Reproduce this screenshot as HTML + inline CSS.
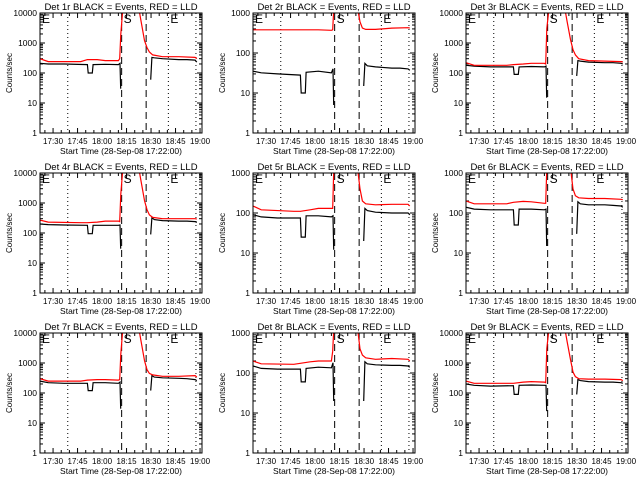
<!DOCTYPE html>
<html><head><meta charset="utf-8"><style>
html,body{margin:0;padding:0;background:#fff}
svg{display:block;font-family:"Liberation Sans",sans-serif}
</style></head><body>
<svg id="chart" width="640" height="480" viewBox="0 0 640 480" xmlns="http://www.w3.org/2000/svg"></svg>
<script>
// minutes after 17:22:00
const blackTimes = [0,5,15,29,29.5,32,32.5,40,48,49,49.4,49.8,67.5,67.8,68.5,70,75,85,90,95,96];
const redTimes = [0,5,25,29,35,40,48,48.8,49.5,50.5,51,59,60,61,62,64,65.5,67,69,75,85,95,96];
const panelTitles = ["Det 1r","Det 2r","Det 3r","Det 4r","Det 5r","Det 6r","Det 7r","Det 8r","Det 9r"];
const panelYMax = [10000,1000,10000,10000,1000,1000,10000,1000,10000];
const B = 1e5;
const blackP1 = [210,200,200,190,100,100,190,195,190,210,30,null,null,60,330,320,300,280,280,270,230];
const blackP2 = [35,32,30,28,10,10,33,35,32,40,5,null,null,15,55,48,45,42,42,40,37];
const blackP3 = [180,170,160,160,90,90,160,165,160,170,15,null,null,80,260,250,230,220,220,210,200];
const blackP4 = [200,190,185,180,95,95,180,180,180,185,30,null,null,90,320,280,260,250,250,240,225];
const blackP5 = [90,80,75,75,25,25,85,85,80,85,12,null,null,20,130,115,105,100,100,100,90];
const blackP6 = [140,125,120,120,50,50,125,125,120,125,15,null,null,30,190,170,160,160,155,150,140];
const blackP7 = [250,220,210,210,120,120,220,220,210,230,30,null,null,120,380,340,320,310,300,280,260];
const blackP8 = [150,130,125,125,60,60,130,140,135,180,20,null,null,20,190,170,160,155,155,150,140];
const blackP9 = [200,180,170,175,90,90,180,185,180,180,25,null,null,90,280,260,240,230,230,220,210];
const redP1 = [300,240,240,280,280,260,260,300,2000,10000,B,B,B,10000,5000,1200,700,500,400,350,350,330,300];
const redP2 = [380,380,380,380,380,380,370,380,B,B,B,B,B,B,B,B,600,420,390,390,420,430,420];
const redP3 = [220,180,180,190,200,210,210,200,3000,10000,B,B,B,10000,5000,1300,600,400,300,260,250,240,230];
const redP4 = [270,230,220,220,230,250,250,240,2000,10000,B,B,B,10000,5000,1200,600,400,330,300,300,300,290];
const redP5 = [150,120,110,110,120,130,130,130,B,B,B,B,B,B,B,B,400,200,170,160,165,165,150];
const redP6 = [200,170,170,185,195,190,175,175,B,B,B,B,B,B,B,B,400,270,240,230,230,220,215];
const redP7 = [300,250,250,270,280,280,270,280,2000,10000,B,B,B,10000,5000,1200,600,450,400,360,360,380,340];
const redP8 = [200,170,165,175,190,200,200,350,B,B,B,B,B,B,B,B,400,280,240,220,230,220,200];
const redP9 = [250,210,210,210,230,240,230,220,3000,10000,B,B,B,10000,5000,1300,500,350,300,290,290,280,260];
const timeTickLabels = ["17:30","17:45","18:00","18:15","18:30","18:45","19:00"];
const timeTickMinutes = [8,23,38,53,68,83,98];
const dashedMinutes = [50,65];
const dottedMinutes = [17,78.6,95.5];

const blackSeries = [blackP1,blackP2,blackP3,blackP4,blackP5,blackP6,blackP7,blackP8,blackP9];
const redSeries = [redP1,redP2,redP3,redP4,redP5,redP6,redP7,redP8,redP9];

const NS = "http://www.w3.org/2000/svg";
const svg = document.getElementById("chart");
const colX = [40,253,466], rowY = [13,173,333], PW = 162, PH = 120, PXMIN = 1.633;
function mk(tag, attrs, parent){const e=document.createElementNS(NS,tag);for(const k in attrs)e.setAttribute(k,attrs[k]);(parent||svg).appendChild(e);return e;}
const defs = mk("defs",{});

for (let p=0;p<9;p++){
  const x0 = colX[p%3], y0 = rowY[Math.floor(p/3)];
  const ymax = panelYMax[p], dec = Math.log10(ymax);
  const xs = t => x0 + t*PXMIN;
  const ys = v => y0 + PH - Math.log10(v)/dec*PH;
  const g = mk("g",{});
  
  
  const cp = mk("clipPath",{id:"cp"+p},defs);
  mk("rect",{x:x0,y:y0,width:PW,height:PH},cp);

  const title = mk("text",{x:x0+PW/2,y:y0-3,"text-anchor":"middle","font-size":"9.5"},g);
  title.textContent = panelTitles[p]+" BLACK = Events, RED = LLD";
  
  

  for (let d=0; d<=dec; d++){
    const v = Math.pow(10,d), y = ys(v);
    mk("line",{x1:x0,x2:x0+5,y1:y,y2:y,stroke:"#000"},g);
    mk("line",{x1:x0+PW-5,x2:x0+PW,y1:y,y2:y,stroke:"#000"},g);
    const lab = mk("text",{x:x0-3,y:y+3,"text-anchor":"end","font-size":"8.5"},g);
    lab.textContent = String(v);
    
    
    if (d<dec) for (let m=2;m<10;m++){
      const ym = ys(v*m);
      mk("line",{x1:x0,x2:x0+3,y1:ym,y2:ym,stroke:"#000"},g);
      mk("line",{x1:x0+PW-3,x2:x0+PW,y1:ym,y2:ym,stroke:"#000"},g);
    }
  }
  for (let m=0;m<=99;m+=5){
    const t = m+3; if (t>98.5) break;
    const x = xs(t), major = ((t-8)%15===0);
    const L = major?5:3;
    mk("line",{x1:x,x2:x,y1:y0+PH,y2:y0+PH-L,stroke:"#000"},g);
    mk("line",{x1:x,x2:x,y1:y0,y2:y0+L,stroke:"#000"},g);
  }
  timeTickMinutes.forEach((t,i)=>{
    const lab = mk("text",{x:xs(t),y:y0+PH+11,"text-anchor":"middle","font-size":"8"},g);
    lab.textContent = timeTickLabels[i];
    
    
  });
  const xt = mk("text",{x:x0+PW/2,y:y0+PH+21,"text-anchor":"middle","font-size":"8.5"},g);
  xt.textContent = "Start Time (28-Sep-08 17:22:00)";
  
  
  const yt = mk("text",{x:0,y:0,"text-anchor":"middle","font-size":"8",transform:`translate(${x0-28},${y0+PH/2}) rotate(-90)`},g);
  yt.textContent = "Counts/sec";
  
  

  const inner = mk("g",{"clip-path":`url(#cp${p})`},g);
  dashedMinutes.forEach(t=>{
    const l = mk("line",{x1:xs(t),x2:xs(t),y1:y0,y2:y0+PH,stroke:"#000","stroke-dasharray":"7,4"},inner);
    
    
  });
  dottedMinutes.forEach(t=>{
    const l = mk("line",{x1:xs(t),x2:xs(t),y1:y0,y2:y0+PH,stroke:"#000","stroke-dasharray":"1,3"},inner);
    
    
  });
  [["E",x0+2],["S",xs(dashedMinutes[0])+2],["E",xs(dottedMinutes[1])+2]].forEach(([c,x])=>{
    const t = mk("text",{x:x,y:y0+10,"font-size":"12"},inner);
    t.textContent = c;
    
    
  });

  function path(times, vals, color){
    let d = "", pen = false;
    times.forEach((t,i)=>{
      const v = vals[i];
      if (v===null){pen=false;return;}
      const y = Math.max(y0-5, ys(v));
      d += (pen?"L":"M")+xs(t).toFixed(1)+" "+y.toFixed(1)+" ";
      pen = true;
    });
    return mk("path",{d:d,fill:"none",stroke:color,"stroke-width":"1.2"},inner);
  }
  const bp = path(blackTimes, blackSeries[p], "#000");
  
  
  const rp = path(redTimes, redSeries[p], "#ff0000");
  
  

  const frame = mk("rect",{x:x0,y:y0,width:PW,height:PH,fill:"none",stroke:"#000"},g);
  
  
}
</script>
</body></html>
